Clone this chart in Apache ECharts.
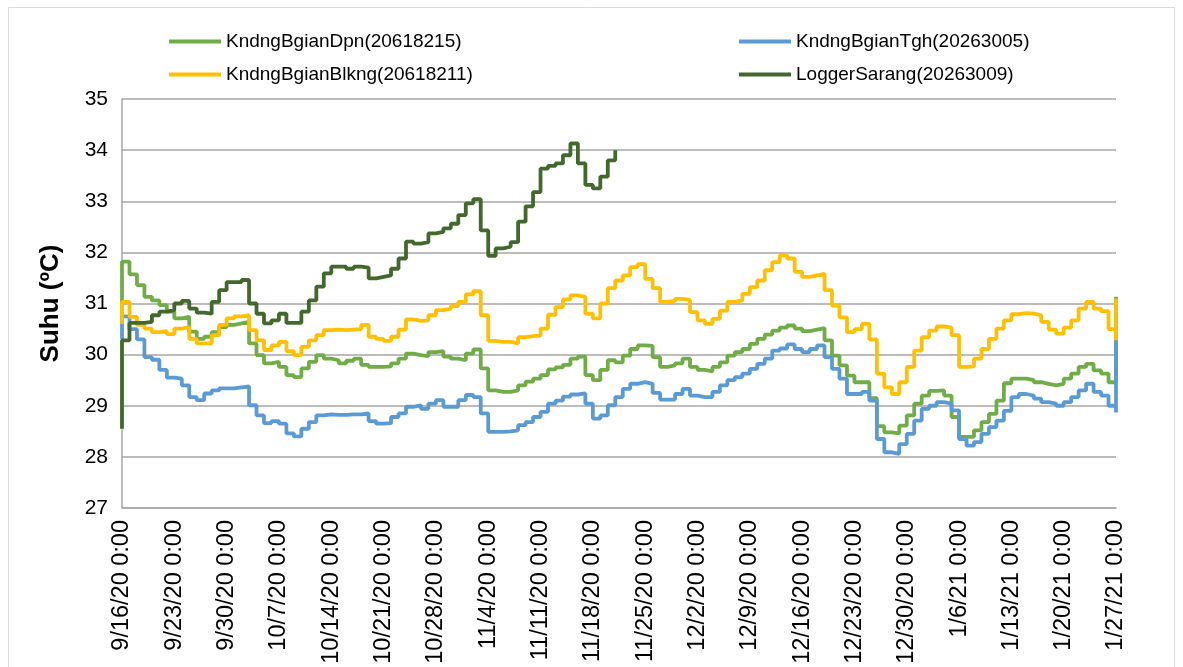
<!DOCTYPE html>
<html>
<head>
<meta charset="utf-8">
<title>Suhu</title>
<script src="https://cdn.jsdelivr.net/npm/echarts@6/dist/echarts.min.js"></script>
<style>
  html, body { margin: 0; padding: 0; background: #fff; }
  #main { width: 1183px; height: 667px; }
</style>
</head>
<body>
<div id="main"></div>
<script>
// tick labels, one every 7 days (9/16/20 .. 1/27/21)
var tickLabels = ['9/16/20 0:00', '9/23/20 0:00', '9/30/20 0:00', '10/7/20 0:00', '10/14/20 0:00',
  '10/21/20 0:00', '10/28/20 0:00', '11/4/20 0:00', '11/11/20 0:00', '11/18/20 0:00',
  '11/25/20 0:00', '12/2/20 0:00', '12/9/20 0:00', '12/16/20 0:00', '12/23/20 0:00',
  '12/30/20 0:00', '1/6/21 0:00', '1/13/21 0:00', '1/20/21 0:00', '1/27/21 0:00'];

var seriesNames = ['KndngBgianDpn(20618215)', 'KndngBgianTgh(20263005)',
  'KndngBgianBlkng(20618211)', 'LoggerSarang(20263009)'];

// daily values, index = days since 9/16/20
var dpn = [31.82, 31.57, 31.36, 31.13, 31.06, 30.97, 30.84, 30.71, 30.74, 30.45,
  30.31, 30.35, 30.44, 30.54, 30.58, 30.61, 30.64, 30.22, 29.99, 29.83,
  29.86, 29.76, 29.6, 29.56, 29.73, 29.86, 29.99, 29.92, 29.89, 29.83,
  29.88, 29.92, 29.8, 29.76, 29.76, 29.77, 29.83, 29.92, 30.02, 29.99,
  29.97, 30.05, 30.07, 29.96, 29.92, 29.89, 30.02, 30.1, 29.73, 29.3,
  29.27, 29.27, 29.3, 29.4, 29.47, 29.53, 29.6, 29.71, 29.75, 29.8,
  29.92, 29.96, 29.6, 29.5, 29.7, 29.89, 29.85, 29.98, 30.11, 30.18,
  30.17, 29.95, 29.76, 29.79, 29.83, 29.92, 29.76, 29.7, 29.67, 29.76,
  29.85, 29.98, 30.05, 30.11, 30.21, 30.31, 30.39, 30.47, 30.53, 30.57,
  30.51, 30.46, 30.49, 30.52, 30.28, 29.98, 29.79, 29.59, 29.46, 29.46,
  29.15, 28.6, 28.48, 28.46, 28.61, 28.81, 29.04, 29.2, 29.29, 29.3,
  29.2, 28.78, 28.39, 28.39, 28.52, 28.68, 28.84, 29.1, 29.44, 29.53,
  29.53, 29.5, 29.46, 29.43, 29.4, 29.43, 29.53, 29.63, 29.76, 29.82,
  29.69, 29.63, 29.46];

var tgh = [30.75, 30.5, 30.3, 29.95, 29.9, 29.7, 29.55, 29.53, 29.4, 29.17,
  29.11, 29.24, 29.3, 29.34, 29.34, 29.36, 29.38, 29.01, 28.81, 28.66,
  28.7, 28.65, 28.46, 28.4, 28.55, 28.68, 28.81, 28.83, 28.82, 28.82,
  28.83, 28.83, 28.85, 28.7, 28.65, 28.66, 28.78, 28.85, 28.98, 29.01,
  28.94, 29.04, 29.11, 28.98, 28.98, 29.11, 29.21, 29.17, 28.85, 28.49,
  28.49, 28.5, 28.52, 28.62, 28.68, 28.78, 28.88, 29.04, 29.1, 29.18,
  29.22, 29.24, 29.04, 28.75, 28.81, 29.01, 29.17, 29.33, 29.43, 29.46,
  29.43, 29.25, 29.12, 29.12, 29.23, 29.33, 29.2, 29.17, 29.17, 29.27,
  29.4, 29.5, 29.56, 29.63, 29.72, 29.82, 29.92, 30.08, 30.12, 30.2,
  30.11, 30.05, 30.11, 30.18, 29.95, 29.72, 29.53, 29.23, 29.23, 29.27,
  29.1, 28.35, 28.09, 28.06, 28.25, 28.45, 28.71, 28.94, 29.0, 29.07,
  29.04, 28.91, 28.35, 28.22, 28.29, 28.45, 28.58, 28.71, 28.9, 29.17,
  29.23, 29.2, 29.14, 29.07, 29.04, 29.0, 29.07, 29.17, 29.3, 29.43,
  29.27, 29.2, 29.0];

var blkng = [31.03, 30.74, 30.58, 30.51, 30.44, 30.46, 30.4, 30.51, 30.54, 30.31,
  30.22, 30.22, 30.38, 30.58, 30.71, 30.75, 30.77, 30.48, 30.28, 30.09,
  30.18, 30.25, 30.07, 29.99, 30.15, 30.28, 30.38, 30.48, 30.49, 30.48,
  30.49, 30.5, 30.58, 30.35, 30.31, 30.27, 30.35, 30.49, 30.69, 30.66,
  30.67, 30.77, 30.87, 30.9, 30.95, 31.03, 31.18, 31.24, 30.77, 30.27,
  30.25, 30.25, 30.22, 30.34, 30.36, 30.37, 30.51, 30.78, 30.93, 31.08,
  31.16, 31.13, 30.8, 30.71, 31.0, 31.3, 31.45, 31.55, 31.71, 31.77,
  31.48, 31.3, 31.03, 31.05, 31.09, 31.07, 30.83, 30.67, 30.6, 30.7,
  30.86, 31.03, 31.06, 31.19, 31.32, 31.45, 31.65, 31.81, 31.94, 31.88,
  31.62, 31.52, 31.55, 31.58, 31.26, 30.96, 30.73, 30.44, 30.5, 30.6,
  30.3, 29.63, 29.36, 29.23, 29.46, 29.76, 30.08, 30.34, 30.47, 30.55,
  30.53, 30.38, 29.76, 29.77, 29.92, 30.11, 30.31, 30.51, 30.67, 30.79,
  30.81, 30.8, 30.77, 30.64, 30.49, 30.41, 30.53, 30.67, 30.9, 31.03,
  30.9, 30.85, 30.5];

var sarang = [30.28, 30.62, 30.62, 30.64, 30.77, 30.84, 30.87, 31.0, 31.05, 30.9,
  30.82, 30.8, 31.03, 31.26, 31.42, 31.42, 31.46, 31.0, 30.8, 30.61,
  30.67, 30.8, 30.62, 30.62, 30.84, 31.06, 31.33, 31.59, 31.72, 31.72,
  31.68, 31.72, 31.7, 31.49, 31.52, 31.55, 31.68, 31.88, 32.21, 32.17,
  32.2, 32.37, 32.4, 32.47, 32.56, 32.73, 32.96, 33.04, 32.43, 31.93,
  32.08, 32.11, 32.2, 32.6, 32.9, 33.18, 33.64, 33.69, 33.74, 33.9,
  34.13, 33.74, 33.32, 33.25, 33.48, 33.8];

// first reading (start of day 0) and last readings (end of record)
var heads = [30.6, 30.3, 30.6, 28.55];
var tails = [[31.13], [28.87, 30.28], [31.1, 30.28], [34.0]];

var colors = ['#70ad47', '#5b9bd5', '#ffc000', '#43682b'];
var font = 'Liberation Sans, Arial, sans-serif';

function buildData(values, head, tail) {
  var out = [[0, head]];
  values.forEach(function (v, i) { out.push([i, v]); });
  tail.forEach(function (v) { out.push([values.length, v]); });
  return out;
}

var allValues = [dpn, tgh, blkng, sarang];
var series = allValues.map(function (vals, k) {
  return {
    name: seriesNames[k],
    type: 'line',
    step: 'end',
    showSymbol: false,
    symbol: 'none',
    animation: false,
    data: buildData(vals, heads[k], tails[k]),
    lineStyle: { color: colors[k], width: 3.8 },
    itemStyle: { color: colors[k] }
  };
});

var chart = echarts.init(document.getElementById('main'), null, { renderer: 'canvas' });

var legendBase = {
  orient: 'vertical',
  top: 27,
  icon: 'rect',
  itemWidth: 52,
  itemHeight: 4,
  itemGap: 14,
  textStyle: { fontFamily: font, fontSize: 19, color: '#000', lineHeight: 18 }
};

var option = {
  backgroundColor: '#fff',
  animation: false,
  color: colors,
  graphic: [{
    type: 'rect',
    shape: { x: 8.5, y: 7.5, width: 1166, height: 700 },
    style: { fill: 'none', stroke: '#d9d9d9', lineWidth: 1 },
    silent: true
  }],
  legend: [
    Object.assign({}, legendBase, { left: 164, data: [seriesNames[0], seriesNames[2]] }),
    Object.assign({}, legendBase, { left: 734, data: [seriesNames[1], seriesNames[3]] })
  ],
  grid: { left: 122, right: 67, top: 99, bottom: 159, containLabel: false },
  xAxis: {
    type: 'value',
    min: 0,
    max: 133,
    interval: 7,
    axisLine: { show: true, lineStyle: { color: '#a6a6a6', width: 1.5 } },
    axisTick: { show: false },
    splitLine: { show: false },
    axisLabel: {
      rotate: 90,
      margin: 12,
      fontFamily: font,
      fontSize: 23.5,
      color: '#000',
      formatter: function (v) { return tickLabels[Math.round(v / 7)]; }
    }
  },
  yAxis: {
    type: 'value',
    min: 27,
    max: 35,
    interval: 1,
    name: 'Suhu (ºC)',
    nameLocation: 'middle',
    nameRotate: 90,
    nameGap: 58,
    nameTextStyle: { fontFamily: font, fontSize: 26, fontWeight: 'bold', color: '#000' },
    axisLine: { show: true, lineStyle: { color: '#a6a6a6', width: 1.5 } },
    axisTick: { show: false },
    splitLine: { show: true, lineStyle: { color: '#a6a6a6', width: 1.5 } },
    axisLabel: { fontFamily: font, fontSize: 21, color: '#000', margin: 14 }
  },
  series: series
};

chart.setOption(option);
</script>
</body>
</html>
